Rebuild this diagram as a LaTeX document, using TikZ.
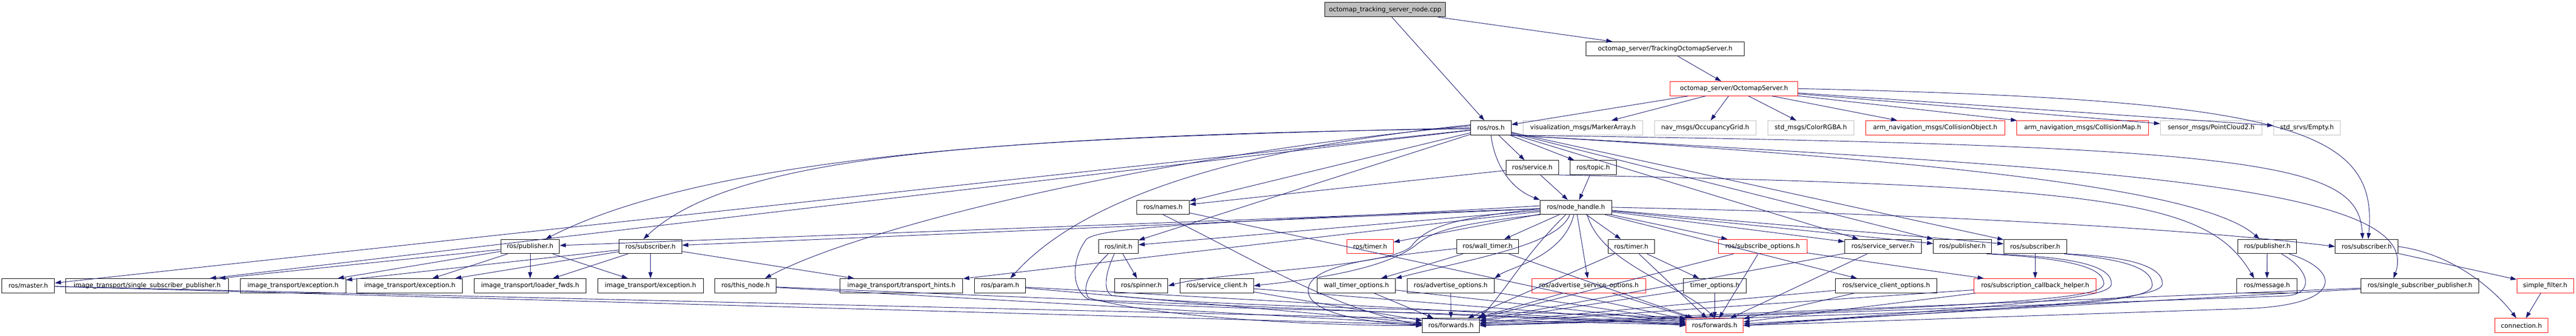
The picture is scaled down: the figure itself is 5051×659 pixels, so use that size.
\documentclass[tikz,border=0pt]{standalone}
\usepackage{fontspec}
\setmainfont{DejaVu Sans}
\usetikzlibrary{arrows.meta}
\definecolor{edgecol}{HTML}{191970}
\definecolor{greyb}{HTML}{BFBFBF}
\definecolor{redb}{HTML}{FF0000}
\tikzset{
 box/.style={draw=black, line width=1pt, inner sep=0pt, minimum height=28pt, font=\fontsize{12.4}{14}\selectfont, anchor=center},
 extbox/.style={box, draw=greyb},
 truncbox/.style={box, draw=redb},
 rootbox/.style={box, fill=greyb},
 edge/.style={draw=edgecol, line width=0.95pt, -{Triangle[length=12pt,width=8pt]}}
}
\newcommand{\nb}[6]{\node[#2, minimum width={(#4-#3)*1pt}] (#1) at ({(#3+#4)/2},{#5+14}) {#6};}
\begin{document}
\begin{tikzpicture}[x=1pt,y=-1pt]
\fill[white] (0,0) rectangle (5051,659);
\useasboundingbox (0,0) rectangle (5051,659);
% row 0-2
\nb{top}{rootbox}{2598}{2834}{5}{octomap\_tracking\_server\_node.cpp}
\nb{tos}{box}{3110}{3420}{82}{octomap\_server/TrackingOctomapServer.h}
\nb{os}{truncbox}{3275}{3525}{160}{octomap\_server/OctomapServer.h}
% row 3
\nb{rosros}{box}{2884}{2963}{237}{ros/ros.h}
\nb{vis}{extbox}{2987}{3221}{237}{visualization\_msgs/MarkerArray.h}
\nb{nav}{extbox}{3244}{3443}{237}{nav\_msgs/OccupancyGrid.h}
\nb{color}{extbox}{3466}{3635}{237}{std\_msgs/ColorRGBA.h}
\nb{cobj}{truncbox}{3658}{3931}{237}{arm\_navigation\_msgs/CollisionObject.h}
\nb{cmap}{truncbox}{3954}{4213}{237}{arm\_navigation\_msgs/CollisionMap.h}
\nb{pc2}{extbox}{4236}{4435}{237}{sensor\_msgs/PointCloud2.h}
\nb{empty}{extbox}{4458}{4589}{237}{std\_srvs/Empty.h}
% row 4
\nb{service}{box}{2953}{3056}{315}{ros/service.h}
\nb{topic}{box}{3079}{3169}{315}{ros/topic.h}
% row 5
\nb{names}{box}{2229}{2332}{393}{ros/names.h}
\nb{nh}{box}{3020}{3160}{393}{ros/node\_handle.h}
% row 6
\nb{itpub}{box}{982}{1097}{470}{ros/publisher.h}
\nb{itsub}{box}{1214}{1337}{470}{ros/subscriber.h}
\nb{init}{box}{2154}{2232}{470}{ros/init.h}
\nb{timerred}{truncbox}{2641}{2732}{470}{ros/timer.h}
\nb{walltimer}{box}{2856}{2978}{470}{ros/wall\_timer.h}
\nb{timer}{box}{3153}{3244}{470}{ros/timer.h}
\nb{subopts}{truncbox}{3369}{3543}{470}{ros/subscribe\_options.h}
\nb{srvserver}{box}{3617}{3767}{470}{ros/service\_server.h}
\nb{pub}{box}{3791}{3905}{470}{ros/publisher.h}
\nb{sub}{box}{3929}{4052}{470}{ros/subscriber.h}
\nb{pubb}{box}{4388}{4503}{470}{ros/publisher.h}
\nb{mfsub}{box}{4579}{4702}{470}{ros/subscriber.h}
% row 7
\nb{master}{box}{4}{107}{547}{ros/master.h}
\nb{itssp}{box}{129}{448}{547}{image\_transport/single\_subscriber\_publisher.h}
\nb{itexca}{box}{471}{678}{547}{image\_transport/exception.h}
\nb{itexcb}{box}{700}{907}{547}{image\_transport/exception.h}
\nb{loader}{box}{930}{1149}{547}{image\_transport/loader\_fwds.h}
\nb{itexcc}{box}{1172}{1379}{547}{image\_transport/exception.h}
\nb{thisnode}{box}{1402}{1522}{547}{ros/this\_node.h}
\nb{hints}{box}{1647}{1888}{547}{image\_transport/transport\_hints.h}
\nb{param}{box}{1911}{2011}{547}{ros/param.h}
\nb{spinner}{box}{2186}{2290}{547}{ros/spinner.h}
\nb{srvclient}{box}{2314}{2458}{547}{ros/service\_client.h}
\nb{wto}{box}{2583}{2736}{547}{wall\_timer\_options.h}
\nb{advopts}{box}{2759}{2930}{547}{ros/advertise\_options.h}
\nb{asopts}{truncbox}{3004}{3227}{547}{ros/advertise\_service\_options.h}
\nb{topts}{box}{3301}{3424}{547}{timer\_options.h}
\nb{sco}{box}{3599}{3798}{547}{ros/service\_client\_options.h}
\nb{sch}{truncbox}{3871}{4110}{547}{ros/subscription\_callback\_helper.h}
\nb{message}{box}{4386}{4504}{547}{ros/message.h}
\nb{ssp}{box}{4629}{4861}{547}{ros/single\_subscriber\_publisher.h}
\nb{simple}{truncbox}{4935}{5046}{547}{simple\_filter.h}
% row 8
\nb{fwd}{box}{2789}{2901}{625}{ros/forwards.h}
\nb{fwdred}{truncbox}{3306}{3418}{625}{ros/forwards.h}
\nb{connection}{truncbox}{4892}{4996}{625}{connection.h}
% straight edges
\foreach \a/\b in {top/rosros, top/tos, tos/os,
 os/rosros, os/vis, os/nav, os/color, os/cobj, os/cmap, os/pc2, os/empty,
 rosros/master, rosros/itssp, rosros/init, rosros/names, rosros/service, rosros/topic, rosros/srvserver, rosros/pub, rosros/sub,
 service/nh, service/names, topic/nh,
 nh/itpub, nh/itsub, nh/init, nh/timerred, nh/walltimer, nh/timer, nh/asopts, nh/subopts, nh/sco, nh/srvserver, nh/pub, nh/sub, nh/hints,
 itpub/itssp, itpub/itexca, itpub/itexcb, itpub/loader, itpub/itexcc,
 itsub/itexca, itsub/itexcb, itsub/loader, itsub/itexcc, itsub/hints,
 master/fwd, master/fwdred, thisnode/fwd, thisnode/fwdred, param/fwd, param/fwdred,
 init/spinner, names/fwdred, srvclient/fwd, srvclient/fwdred,
 wto/fwd, wto/fwdred, advopts/fwd, advopts/fwdred, walltimer/wto, walltimer/fwdred,
 timer/topts, timer/fwd, timer/fwdred, topts/fwd, topts/fwdred, asopts/fwd, asopts/fwdred,
 subopts/sch, subopts/fwd, subopts/fwdred, srvserver/fwd, srvserver/fwdred, sco/fwd, sco/fwdred,
 sub/sch, sch/fwd, sch/fwdred,
 pubb/message, ssp/fwd, ssp/fwdred,
 mfsub/simple, simple/connection}
 \draw[edge] (\a) -- (\b);
% curved edges from ros/ros.h
\draw[edge] (rosros.south) .. controls (2930,320) and (2960,370) .. (nh.north west);
\draw[edge] ([yshift=-2pt]rosros.west) .. controls (2100,262) and (1400,300) .. ([xshift=30pt]itpub.north);
\draw[edge] ([yshift=0pt]rosros.west) .. controls (2000,272) and (1450,292) .. ([xshift=-14pt]itsub.north);
\draw[edge] ([yshift=4pt]rosros.west) .. controls (2300,300) and (1700,440) .. ([xshift=38pt]thisnode.north);
\draw[edge] ([yshift=6pt]rosros.west) .. controls (2450,290) and (2130,380) .. ([xshift=20pt]param.north);
\draw[edge] (rosros.south east) .. controls (4450,285) and (4625,320) .. ([xshift=-8pt]mfsub.north);
\draw[edge] (rosros.south east) .. controls (4100,330) and (4760,360) .. ([xshift=-52pt]ssp.north);
\draw[edge] (rosros.south east) .. controls (3900,320) and (4330,380) .. ([xshift=-15pt]pubb.north);
% curved edges from ros/node_handle.h
\draw[edge] ([xshift=-12pt]nh.south) .. controls (3055,480) and (2900,505) .. (wto.north east);
\draw[edge] ([xshift=-4pt]nh.south) .. controls (3065,505) and (2960,525) .. (advopts.north east);
\draw[edge] ([xshift=-20pt]nh.south) .. controls (2990,500) and (2960,560) .. (fwd.north east);
\draw[edge] ([xshift=22pt]nh.south) .. controls (3140,520) and (3300,560) .. (fwdred.north);
\draw[edge] (nh.south west) .. controls (2850,440) and (2810,455) .. (2780,478) .. controls (2720,530) and (2560,550) .. (srvclient.east);
\draw[edge] ([yshift=-3pt]nh.west) .. controls (2850,428) and (2800,445) .. (2770,480) .. controls (2745,525) and (2400,532) .. (spinner.east);
\draw[edge] ([yshift=3pt]nh.west) .. controls (2500,435) and (2160,440) .. (2130,470) .. controls (2100,510) and (2100,570) .. (2135,588) .. controls (2300,610) and (2800,605) .. (fwdred.west);
\draw[edge] (nh.east) .. controls (3800,420) and (4300,450) .. (mfsub.west);
% other curved edges
\draw[edge] ([xshift=-20pt]init.south) .. controls (2150,520) and (2115,560) .. (2135,585) .. controls (2300,630) and (2650,640) .. (fwd.west);
\draw[edge] ([xshift=-8pt]init.south) .. controls (2170,530) and (2160,570) .. (2180,580) .. controls (2400,605) and (3000,610) .. (fwdred.north west);
\draw[edge] ([yshift=-4pt]walltimer.west) .. controls (2700,505) and (2565,520) .. (2565,570) .. controls (2565,620) and (2700,634) .. (fwd.west);
\draw[edge] (names.south) .. controls (2480,520) and (2600,600) .. (fwd.west);
\draw[edge] (os.east) .. controls (4480,195) and (4665,250) .. ([xshift=3pt]mfsub.north);
\draw[edge] (service.south east) .. controls (4150,365) and (4330,395) .. ([xshift=-25pt]message.north);
\draw[edge] (mfsub.east) .. controls (4820,500) and (4900,580) .. ([xshift=-10pt]connection.north);
\draw[edge] ([xshift=-30pt]pubb.south east) .. controls (4530,530) and (4540,578) .. (4480,581) -- (fwd.east);
\draw[edge] ([xshift=-15pt]pubb.south east) .. controls (4590,530) and (4600,600) .. (4400,606) -- (fwdred.east);
\draw[edge] (pub.south east) .. controls (4100,505) and (4140,530) .. (4140,557) .. controls (4140,585) and (4000,595) .. (fwdred.east);
\draw[edge] ([xshift=-10pt]pub.south east) .. controls (4080,508) and (4125,530) .. (4125,557) .. controls (4125,590) and (3900,600) .. (fwd.east);
\draw[edge] (sub.south east) .. controls (4200,505) and (4240,530) .. (4240,557) .. controls (4240,590) and (4000,600) .. (fwdred.east);
\draw[edge] ([xshift=-5pt]sub.south east) .. controls (4180,510) and (4220,530) .. (4220,560) .. controls (4220,600) and (3950,610) .. (fwd.east);
\end{tikzpicture}
\end{document}
